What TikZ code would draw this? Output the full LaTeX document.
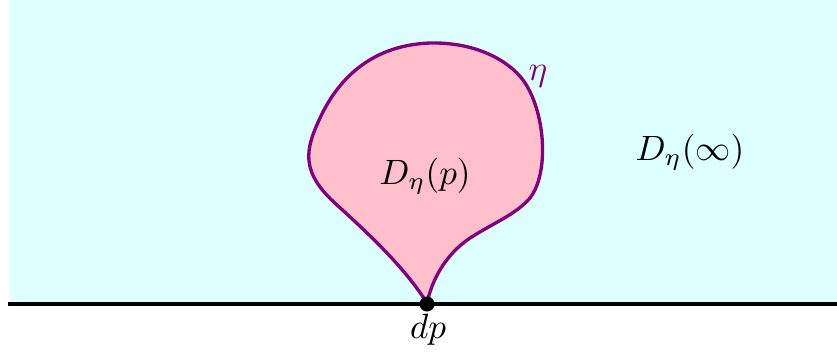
\documentclass[tikz,border=0pt]{standalone}
\usetikzlibrary{calc}
\definecolor{bgcyan}{RGB}{222,255,255}
\definecolor{loopfill}{RGB}{255,192,203}
\definecolor{looppurple}{RGB}{128,0,128}
\begin{document}
\begin{tikzpicture}[x=0.01cm,y=-0.01cm,
  curve/.style={draw=looppurple,line width=0.95pt,fill=loopfill},
  baseline/.style={draw=black,line width=1.05pt},
  lbl/.style={inner sep=0pt}]
\useasboundingbox (0,0) rectangle (837,351);
\fill[bgcyan] (10,0) rectangle (837,304);
\coordinate (L) at (8,304);
\coordinate (R) at (837,304);
\coordinate (cusp) at (427,304);
\draw[curve] (427,303)
  .. controls (405,268) and (370,235) .. (337,205)
  .. controls (300,172) and (305,150) .. (320,118)
  .. controls (340,75) and (375,45) .. (430,43)
  .. controls (475,42) and (508,60) .. (523,80)
  .. controls (545,110) and (550,172) .. (530,198)
  .. controls (515,215) and (495,222) .. (470,238)
  .. controls (445,255) and (432,280) .. (427,303) -- cycle;
\draw[baseline] (L) -- (R);
\fill (cusp) circle[radius=7.5];
\node[lbl] (dp) at (428,330) {$dp$};
\node[lbl] (Dp) at (425,176) {$D_\eta(p)$};
\node[lbl,text=looppurple] (eta) at (538,76) {$\eta$};
\node[lbl] (Dinf) at (690,152) {$D_\eta(\infty)$};
\end{tikzpicture}
\end{document}
